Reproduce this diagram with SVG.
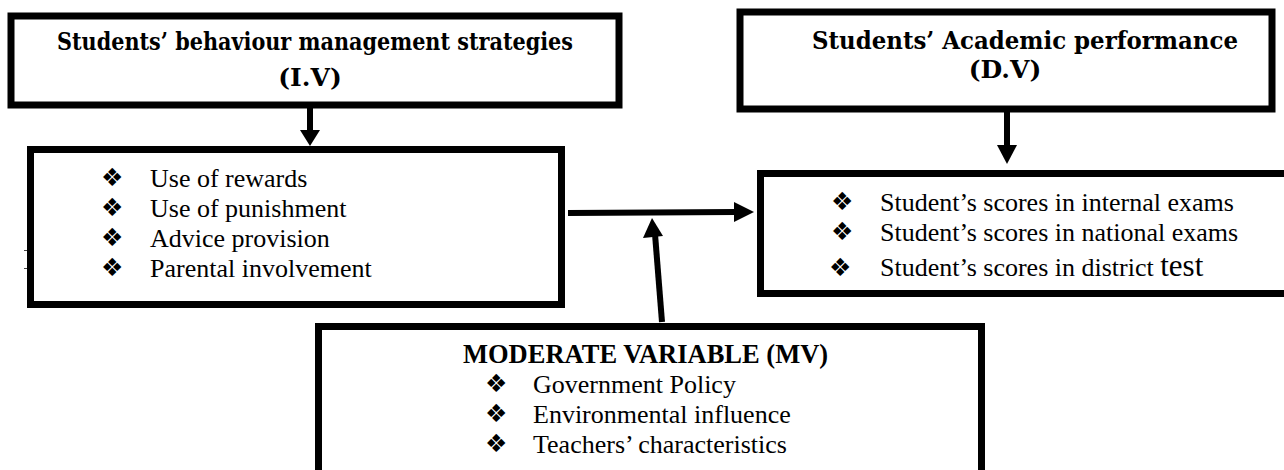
<svg xmlns="http://www.w3.org/2000/svg" width="1284" height="470" viewBox="0 0 1284 470">
<style>
.box{fill:#fff;stroke:#000;stroke-width:7}
.hd{font-family:"DejaVu Serif",serif;font-weight:bold;font-size:25px;fill:#000}
.tx{font-family:"Liberation Serif","Times New Roman",serif;font-size:26px;fill:#000}
.bt{font-family:"DejaVu Sans",sans-serif;font-size:25px;fill:#000}
.mvh{font-family:"Liberation Serif","Times New Roman",serif;font-weight:bold;font-size:26.5px;fill:#000}
.sh{stroke:#000;stroke-width:6;fill:none}
.ah{fill:#000}
.tick{stroke:#444;stroke-width:1}
</style>
<g id="iv-header">
<rect class="box" x="11" y="16" width="608" height="89" stroke-width="6"/>
<text class="hd" x="57" y="50" textLength="516" lengthAdjust="spacingAndGlyphs">Students’ behaviour management strategies</text>
<text class="hd" x="310" y="86" text-anchor="middle">(I.V)</text>
</g>
<g id="dv-header">
<rect class="box" x="740" y="12" width="532" height="97" stroke-width="6"/>
<text class="hd" x="812" y="49" textLength="426" lengthAdjust="spacingAndGlyphs">Students’ Academic performance</text>
<text class="hd" x="1005" y="78" text-anchor="middle">(D.V)</text>
</g>
<g id="iv-list">
<rect class="box" x="30.5" y="149.5" width="531" height="155"/>
<line class="tick" x1="24" y1="250.5" x2="27" y2="250.5"/>
<line class="tick" x1="24" y1="268.5" x2="27" y2="268.5"/>
<text class="bt" x="101" y="186">❖</text><text class="tx" x="150" y="187">Use of rewards</text>
<text class="bt" x="101" y="216">❖</text><text class="tx" x="150" y="217">Use of punishment</text>
<text class="bt" x="101" y="246">❖</text><text class="tx" x="150" y="247">Advice provision</text>
<text class="bt" x="101" y="276">❖</text><text class="tx" x="150" y="277">Parental involvement</text>
</g>
<g id="dv-list">
<rect class="box" x="760.5" y="173.5" width="540" height="120"/>
<text class="bt" x="831" y="210">❖</text><text class="tx" x="880" y="211">Student’s scores in internal exams</text>
<text class="bt" x="831" y="240">❖</text><text class="tx" x="880" y="241">Student’s scores in national exams</text>
<text class="bt" x="829" y="276" font-size="30">❖</text><text class="tx" x="880" y="276">Student’s scores in district <tspan font-size="31">test</tspan></text>
</g>
<g id="mv">
<rect class="box" x="318.5" y="326.5" width="663" height="200"/>
<text class="mvh" x="463" y="363">MODERATE VARIABLE (MV)</text>
<text class="bt" x="485" y="392">❖</text><text class="tx" x="533" y="393">Government Policy</text>
<text class="bt" x="485" y="422">❖</text><text class="tx" x="533" y="423">Environmental influence</text>
<text class="bt" x="485" y="452">❖</text><text class="tx" x="533" y="453">Teachers’ characteristics</text>
</g>
<g id="connectors">
<line class="sh" x1="310" y1="108" x2="310" y2="131"/>
<polygon class="ah" points="300,130 320,130 310,146"/>
<line class="sh" x1="1007" y1="112" x2="1007" y2="146"/>
<polygon class="ah" points="997,145 1017,145 1007,164"/>
<line class="sh" x1="568" y1="213" x2="736" y2="212"/>
<polygon class="ah" points="734,202 734,222 754,212"/>
<line class="sh" x1="662" y1="322" x2="655" y2="234"/>
<polygon class="ah" points="643,238 663,236 652,218"/>
</g>
</svg>
